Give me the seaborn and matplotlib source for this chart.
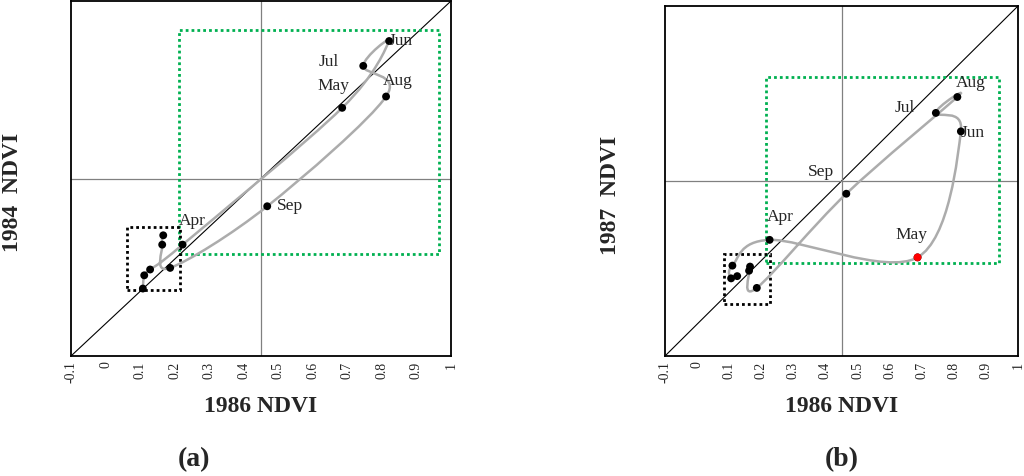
import numpy as np
import pandas as pd
import matplotlib
matplotlib.use("Agg")
import matplotlib.pyplot as plt
from matplotlib.path import Path
from matplotlib.patches import PathPatch, Rectangle
import seaborn as sns

# ---------------- data ----------------
months = ["Jan", "Feb", "Mar", "Apr", "May", "Jun", "Jul", "Aug", "Sep", "Oct", "Nov", "Dec"]

# panel (a): 1986 NDVI (x) vs 1984 NDVI (y)
a_x = [0.108, 0.112, 0.129, 0.223, 0.685, 0.821, 0.746, 0.812, 0.468, 0.187, 0.164, 0.167]
a_y = [0.109, 0.150, 0.168, 0.245, 0.669, 0.876, 0.799, 0.704, 0.364, 0.173, 0.245, 0.274]

# panel (b): 1986 NDVI (x) vs 1987 NDVI (y)
b_x = [0.125, 0.106, 0.110, 0.226, 0.687, 0.822, 0.744, 0.811, 0.465, 0.186, 0.162, 0.165]
b_y = [0.151, 0.144, 0.184, 0.265, 0.210, 0.606, 0.664, 0.714, 0.410, 0.114, 0.168, 0.181]

labelled = ["Apr", "May", "Jun", "Jul", "Aug", "Sep"]

# label offsets (pixels) relative to the point
a_offsets = {"Apr": (10, 24), "May": (-9, 22), "Jun": (12, 0),
             "Jul": (-35, 4), "Aug": (12, 16), "Sep": (23, 0)}
b_offsets = {"Apr": (11, 23), "May": (-6, 22), "Jun": (12, -2),
             "Jul": (-31, 5), "Aug": (13, 14), "Sep": (-25, 22)}

# boxes (x0, y0, x1, y1)
a_green = (0.213, 0.217, 0.966, 0.910)
a_black = (0.062, 0.106, 0.215, 0.300)
b_green = (0.214, 0.191, 0.941, 0.776)
b_black = (0.084, 0.063, 0.228, 0.221)

xticks = [-0.1, 0, 0.1, 0.2, 0.3, 0.4, 0.5, 0.6, 0.7, 0.8, 0.9, 1]
xticklabels = ["-0.1", "0", "0.1", "0.2", "0.3", "0.4", "0.5", "0.6", "0.7", "0.8", "0.9", "1"]
lims = (-0.1, 1.0)
midline = 0.45

# ---------------- style ----------------
sns.set_style("white")
plt.rcParams["font.family"] = ["Liberation Serif", "DejaVu Serif"]

GRAY = "#acacac"
GREEN = "#00b050"


def smooth_path(xs, ys):
    pts = np.column_stack([xs, ys])
    n = len(pts)
    verts = [pts[0]]
    codes = [Path.MOVETO]
    for i in range(n - 1):
        p0 = pts[i - 1] if i > 0 else pts[i]
        p1 = pts[i]
        p2 = pts[i + 1]
        p3 = pts[i + 2] if i + 2 < n else pts[i + 1]
        c1 = p1 + (p2 - p0) / 6.0
        c2 = p2 - (p3 - p1) / 6.0
        verts += [c1, c2, p2]
        codes += [Path.CURVE4] * 3
    return Path(verts, codes)


def panel(ax, xs, ys, offsets, green, black, ylabel, ylab_pos, red_month=None):
    df = pd.DataFrame({"x": xs, "y": ys, "month": months})
    # reference lines
    ax.plot(lims, lims, color="black", lw=0.8, zorder=1)
    ax.axvline(midline, color="#808080", lw=0.9, zorder=1)
    ax.axhline(midline, color="#808080", lw=0.9, zorder=1)
    # boxes
    for (x0, y0, x1, y1), col in [(green, GREEN), (black, "black")]:
        ax.add_patch(Rectangle((x0, y0), x1 - x0, y1 - y0, fill=False,
                               edgecolor=col, lw=2.0, linestyle=(0, (1, 1.1)), zorder=2))
    # smooth trajectory
    ax.add_patch(PathPatch(smooth_path(df["x"].values, df["y"].values), fill=False,
                           edgecolor=GRAY, lw=1.8, zorder=3, capstyle="round"))
    sns.scatterplot(data=df, x="x", y="y", ax=ax, s=32, color="black",
                    edgecolor="none", zorder=4, legend=False)
    if red_month is not None:
        sub = df[df["month"] == red_month]
        sns.scatterplot(data=sub, x="x", y="y", ax=ax, s=32, color="red",
                        edgecolor="none", zorder=5, legend=False)
    for m in labelled:
        r = df[df["month"] == m].iloc[0]
        dx, dy = offsets[m]
        ax.annotate(m, (r["x"], r["y"]), xytext=(dx, dy), textcoords="offset pixels",
                    ha="center", va="center", fontsize=12.5, zorder=6)
    ax.set_xlim(lims)
    ax.set_ylim(lims)
    ax.set_xticks(xticks)
    ax.set_xticklabels(xticklabels, rotation=90, fontsize=10)
    ax.set_yticks([])
    ax.tick_params(axis="x", length=0, pad=4)
    for s in ax.spines.values():
        s.set_visible(True)
        s.set_color("black")
        s.set_linewidth(1.3)
    ax.set_xlabel("1986 NDVI", fontsize=17, fontweight="bold", labelpad=9)
    ax.set_ylabel(ylabel, fontsize=17, fontweight="bold")
    ax.yaxis.set_label_coords(*ylab_pos)


fig = plt.figure(figsize=(10.24, 4.76), dpi=100)
ax_a = fig.add_axes([71 / 1024, 1 - 356 / 476, 380 / 1024, 355 / 476])
ax_b = fig.add_axes([665 / 1024, 1 - 356 / 476, 353 / 1024, 350 / 476])

panel(ax_a, a_x, a_y, a_offsets, a_green, a_black, "1984  NDVI", (-0.127, 0.462))
panel(ax_b, b_x, b_y, b_offsets, b_green, b_black, "1987  NDVI", (-0.125, 0.46), red_month="May")

fig.text(194 / 1024, 1 - 460 / 476, "(a)", ha="center", va="center", fontsize=20, fontweight="bold")
fig.text(842 / 1024, 1 - 460 / 476, "(b)", ha="center", va="center", fontsize=20, fontweight="bold")

fig.savefig("out.png", dpi=100)
